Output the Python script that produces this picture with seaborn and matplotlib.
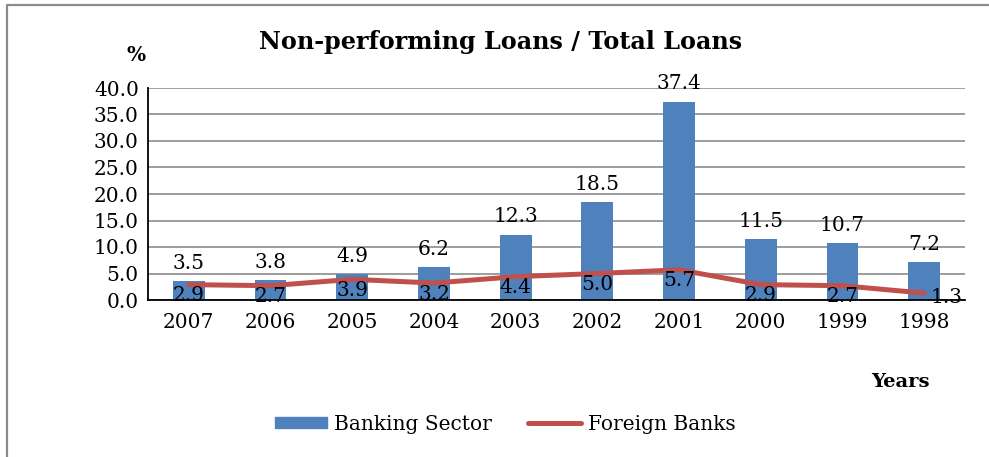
import matplotlib
matplotlib.use("Agg")
import matplotlib.pyplot as plt
from matplotlib.lines import Line2D
from matplotlib.patches import Patch
import pandas as pd
import seaborn as sns

# Non-performing loans as a share of total loans (%)
years = ["2007", "2006", "2005", "2004", "2003", "2002", "2001", "2000", "1999", "1998"]
banking_sector = [3.5, 3.8, 4.9, 6.2, 12.3, 18.5, 37.4, 11.5, 10.7, 7.2]
foreign_banks = [2.9, 2.7, 3.9, 3.2, 4.4, 5.0, 5.7, 2.9, 2.7, 1.3]
y_ticks = [0, 5, 10, 15, 20, 25, 30, 35, 40]

BLUE = "#4F81BD"
RED = "#C0504D"
GRID = "#8C8C8C"
FS = 14.5

sns.set_theme(style="white")
plt.rcParams["font.family"] = ["DejaVu Serif"]
plt.rcParams["text.color"] = "black"
plt.rcParams["axes.labelcolor"] = "black"

df = pd.DataFrame({"Year": years, "Banking Sector": banking_sector,
                   "Foreign Banks": foreign_banks})

W, H = 989, 457
fig = plt.figure(figsize=(W / 100, H / 100), dpi=100)
ax = fig.add_axes([148 / W, 1 - 300 / H, (965 - 148) / W, (300 - 88) / H])

sns.barplot(data=df, x="Year", y="Banking Sector", order=years, color=BLUE,
            saturation=1, width=0.39, linewidth=0, ax=ax, zorder=2)
sns.pointplot(data=df, x="Year", y="Foreign Banks", order=years, color=RED,
              markers="", linestyles="-", linewidth=3.6, ax=ax, zorder=3)
for ln in ax.lines:
    ln.set_solid_capstyle("round")
    ln.set_solid_joinstyle("round")

# Value labels above the bars
ax.bar_label(ax.containers[0], labels=[f"{v:.1f}" for v in banking_sector],
             padding=6, fontsize=FS, color="black")

# Value labels for the foreign-bank line
for i, v in enumerate(foreign_banks):
    dx, dy = (16, -3.5) if i == len(years) - 1 else (0, -8)
    ax.annotate(f"{v:.1f}", xy=(i, v), xytext=(dx, dy), textcoords="offset points",
                ha="center", va="center", fontsize=FS, color="black", zorder=4)

ax.set_ylim(0, 40)
ax.set_xlim(-0.5, len(years) - 0.5)
ax.set_yticks(y_ticks)
ax.set_yticklabels([f"{t:.1f}" for t in y_ticks])
ax.set_xlabel("")
ax.set_ylabel("")
ax.yaxis.grid(True, color=GRID, linewidth=1.2)
ax.set_axisbelow(True)

for side in ("top", "right"):
    ax.spines[side].set_visible(False)
for side in ("left", "bottom"):
    ax.spines[side].set_color("black")
    ax.spines[side].set_linewidth(1.3)

ax.tick_params(axis="both", which="major", labelsize=FS, colors="black",
               length=3.6, width=1, direction="out", pad=3)
ax.tick_params(axis="x", pad=6)
ax.set_xticks([-0.5, len(years) - 0.5], minor=True)
ax.tick_params(axis="x", which="minor", length=3.6, width=1, color="black")

fig.text(501 / W, 1 - 42 / H, "Non-performing Loans / Total Loans",
         ha="center", va="center", fontsize=17.2, fontweight="bold", color="black")
fig.text(136 / W, 1 - 55 / H, "%", ha="center", va="center",
         fontsize=14.5, fontweight="bold", color="black")
fig.text(900 / W, 1 - 382 / H, "Years", ha="center", va="center",
         fontsize=14, fontweight="bold", color="black")

handles = [Patch(facecolor=BLUE, edgecolor=BLUE, label="Banking Sector"),
           Line2D([], [], color=RED, linewidth=3.6, solid_capstyle="round",
                  label="Foreign Banks")]
leg = fig.legend(handles=handles, loc="center", bbox_to_anchor=(505 / W, 1 - 424 / H),
                 ncol=2, frameon=False, fontsize=FS, handlelength=2.6, handleheight=0.5,
                 handletextpad=0.35, columnspacing=1.8)
for t in leg.get_texts():
    t.set_color("black")

# Frame lines along the top and left edges
fig.add_artist(Line2D([7 / W, 7 / W], [0, 1 - 5 / H], color="#8C8C8C", linewidth=1.6))
fig.add_artist(Line2D([7 / W, 1], [1 - 5 / H, 1 - 5 / H], color="#8C8C8C", linewidth=1.6))

fig.savefig("out.png", dpi=100)
